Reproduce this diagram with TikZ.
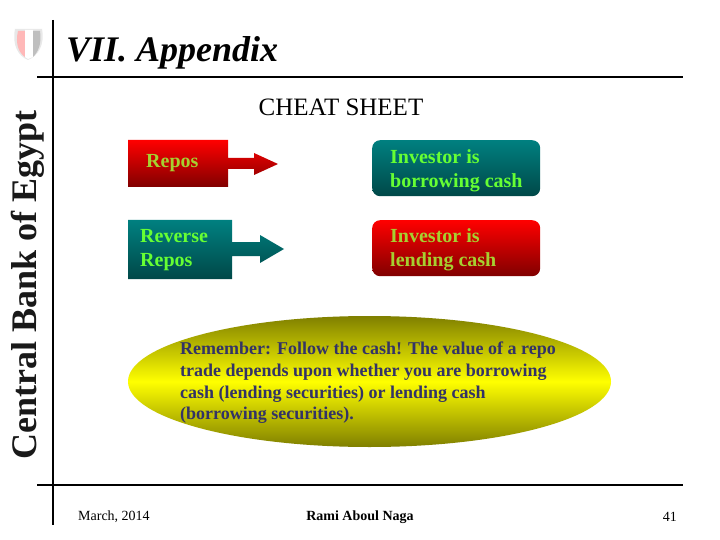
\documentclass[tikz,border=0pt]{standalone}
\usepackage{fontspec}
\setmainfont{Liberation Serif}
\usetikzlibrary{shapes.geometric}
\definecolor{teal1}{HTML}{008080}
\definecolor{teal2}{HTML}{004848}
\definecolor{red1}{HTML}{FF0000}
\definecolor{red2}{HTML}{800000}
\definecolor{lgreen}{HTML}{66FF33}
\definecolor{lolive}{HTML}{A6D030}
\definecolor{navy}{HTML}{333366}
\tikzset{
  redfill/.style={top color=red1,bottom color=red2,draw=none},
  tealfill/.style={top color=teal1,bottom color=teal2,draw=none},
  rbox/.style={rounded corners=8pt,minimum width=168pt,inner sep=0pt},
  label/.style={anchor=north west,inner sep=0pt,font=\bfseries\fontsize{20}{24}\selectfont,align=left},
  rule/.style={line width=2pt,black},
  foot/.style={font=\fontsize{14}{16}\selectfont,text=black,inner sep=0pt}
}
\begin{document}
\begin{tikzpicture}[x=1pt,y=-1pt]
\useasboundingbox (0,0) rectangle (720,540);
\fill[white] (0,0) rectangle (720,540);
% logo
\fill[gray!18] (15,29) -- (42,29) .. controls (45,45) and (38,56) .. (28,60) .. controls (18,56) and (12,45) .. (15,29) -- cycle;
\fill[red!28] (18,31) -- (25,31) -- (25,57) .. controls (19,53) and (15,44) .. (18,31) -- cycle;
\fill[white] (25,30) -- (33,30) -- (33,57) -- (28,59) -- (25,57) -- cycle;
\fill[gray!50] (33,31) -- (40,31) .. controls (42,44) and (38,52) .. (33,57) -- cycle;
% rules
\coordinate (vt) at (53,20); \coordinate (vb) at (53,525);
\coordinate (h1a) at (37,77); \coordinate (h1b) at (683,77);
\coordinate (h2a) at (37,485); \coordinate (h2b) at (683,485);
\draw[rule] (vt) -- (vb);
\draw[rule] (h1a) -- (h1b);
\draw[rule] (h2a) -- (h2b);
% titles
\node[anchor=west,inner sep=0pt,font=\bfseries\itshape\fontsize{36}{40}\selectfont] (title) at (66,53) {VII. Appendix};
\node[rotate=90,anchor=base,inner sep=0pt,font=\bfseries\fontsize{36}{38}\selectfont,text=black!90] (side) at (36,285) {Central Bank of Egypt};
\node[inner sep=0pt,font=\fontsize{25}{28}\selectfont] (cheat) at (341,107) {CHEAT SHEET};
% callouts
\shade[redfill] (128,140) -- (228,140) -- (228,158) -- (254,158) -- (254,153) -- (278,164) -- (254,175) -- (254,169) -- (228,169) -- (228,187) -- (128,187) -- cycle;
\shade[tealfill] (128,220) -- (232,220) -- (232,242) -- (260,242) -- (260,235) -- (284,249) -- (260,263) -- (260,256) -- (232,256) -- (232,279) -- (128,279) -- cycle;
\node[label,text=lolive] (repos) at (146,154) {Repos};
\node[label,text=lgreen] (rev) at (140,229) {Reverse\\Repos};
% right boxes
\node[rbox,tealfill,minimum height=56pt,anchor=north west] (b1) at (372,140) {};
\node[rbox,redfill,minimum height=56pt,anchor=north west] (b2) at (372,220) {};
\node[label,text=lgreen] (t1) at (390,149) {Investor is\\borrowing cash};
\node[label,text=lolive] (t2) at (390,228) {Investor is\\lending cash};
% ellipse
\node[ellipse,draw=none,inner sep=0pt,minimum width=483pt,minimum height=131pt,
  top color=black!50!yellow,bottom color=black!50!yellow,middle color=yellow] (ell) at (369.5,381.5) {};
\node[anchor=north west,inner sep=0pt,align=left,text=navy,font=\bfseries\fontsize{18}{21.7}\selectfont] (rem) at (180,342)
 {Remember: Follow the cash! The value of a repo\\trade depends upon whether you are borrowing\\cash (lending securities) or lending cash\\(borrowing securities).};
% footer
\node[foot,anchor=west] (date) at (78,517) {March, 2014};
\node[foot,font=\bfseries\fontsize{14}{16}\selectfont] (auth) at (360,517) {Rami Aboul Naga};
\node[foot,anchor=east] (num) at (677,517) {41};
\end{tikzpicture}
\end{document}
